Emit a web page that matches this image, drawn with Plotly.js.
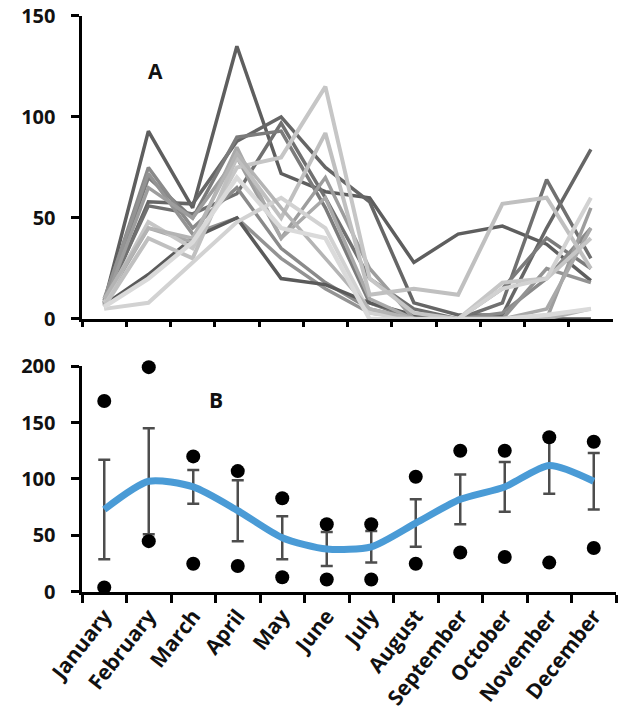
<!DOCTYPE html>
<html>
<head>
<meta charset="utf-8">
<script src="https://cdn.plot.ly/plotly-3.0.1.min.js"></script>
<style>
  html, body { margin: 0; padding: 0; background: #ffffff; }
  #chart { width: 621px; height: 716px; }
</style>
</head>
<body>
<div id="chart"></div>
<script>
// Month categories shared by both panels
const months = ["January", "February", "March", "April", "May", "June",
                "July", "August", "September", "October", "November", "December"];

// Panel A: individual monthly series
const seriesA1  = [8, 93, 55, 135, 72, 63, 60, 28, 42, 46, 37, 19];
const seriesA2  = [7, 58, 57, 88, 100, 75, 58, 8, 2, 2, 45, 84];
const seriesA3  = [9, 56, 52, 62, 97, 60, 20, 5, 0, 8, 69, 30];
const seriesA4  = [8, 70, 50, 90, 93, 55, 8, 0, 0, 15, 40, 25];
const seriesA5  = [9, 75, 45, 65, 35, 18, 5, 0, 0, 3, 20, 45];
const seriesA6  = [10, 72, 42, 50, 30, 15, 3, 0, 0, 0, 25, 18];
const seriesA7  = [7, 22, 40, 50, 20, 17, 8, 2, 0, 0, 0, 0];
const seriesA8  = [7, 65, 50, 80, 40, 70, 25, 0, 0, 0, 0, 55];
const seriesA9  = [8, 45, 38, 85, 40, 60, 10, 0, 0, 0, 5, 45];
const seriesA10 = [8, 48, 35, 75, 80, 115, 20, 3, 0, 18, 20, 40];
const seriesA11 = [6, 40, 30, 80, 50, 92, 12, 15, 12, 57, 60, 25];
const seriesA12 = [5, 8, 28, 48, 60, 45, 3, 0, 0, 15, 20, 60];
const seriesA13 = [10, 45, 40, 82, 55, 30, 5, 0, 0, 0, 0, 5];
const seriesA14 = [6, 20, 38, 70, 45, 40, 0, 0, 0, 0, 2, 5];

// Panel B: monthly mean, its error, and the monthly extremes
const meanB  = [73, 98, 93, 72, 48, 38, 40, 61, 82, 93, 112, 98];
const errorB = [44, 47, 15, 27, 19, 15, 14, 21, 22, 22, 25, 25];
const maxB   = [169, 199, 120, 107, 83, 60, 60, 102, 125, 125, 137, 133];
const minB   = [4, 45, 25, 23, 13, 11, 11, 25, 35, 31, 26, 39];

const seriesA = [seriesA1, seriesA2, seriesA3, seriesA4, seriesA5, seriesA6, seriesA7,
                 seriesA8, seriesA9, seriesA10, seriesA11, seriesA12, seriesA13, seriesA14];
const grays = ["#5e5e5e", "#666666", "#707070", "#7b7b7b", "#8a8a8a", "#939393", "#5a5a5a",
               "#9d9d9d", "#a9a9a9", "#c6c6c6", "#c0c0c0", "#d2d2d2", "#b4b4b4", "#dadada"];
const widths = [3.5, 3.5, 3.5, 3.5, 3.5, 3.5, 3.5, 3.5, 3.5, 4, 4, 4, 3.5, 4.5];

const traces = [];
seriesA.forEach((vals, i) => {
  traces.push({
    x: months, y: vals, xaxis: "x", yaxis: "y",
    type: "scatter", mode: "lines",
    line: { color: grays[i], width: widths[i] },
    cliponaxis: false, hoverinfo: "skip"
  });
});

// Error bars around the mean
traces.push({
  x: months, y: meanB, xaxis: "x2", yaxis: "y2",
  type: "scatter", mode: "markers",
  marker: { size: 1, opacity: 0 },
  error_y: { type: "data", array: errorB, visible: true, color: "#4d4d4d", thickness: 2.5, width: 6 },
  hoverinfo: "skip"
});
// Smoothed mean line
traces.push({
  x: months, y: meanB, xaxis: "x2", yaxis: "y2",
  type: "scatter", mode: "lines",
  line: { color: "#4a9bd6", width: 7, shape: "spline", smoothing: 0.7 },
  hoverinfo: "skip"
});
// Monthly maxima and minima
traces.push({
  x: months, y: maxB, xaxis: "x2", yaxis: "y2",
  type: "scatter", mode: "markers",
  marker: { color: "#000000", size: 14 }, cliponaxis: false
});
traces.push({
  x: months, y: minB, xaxis: "x2", yaxis: "y2",
  type: "scatter", mode: "markers",
  marker: { color: "#000000", size: 14 }, cliponaxis: false
});

const tickFont = { family: "'Open Sans', 'Liberation Sans', sans-serif", size: 20, color: "#111111", weight: 700 };
const monthFont = { family: "'Open Sans', 'Liberation Sans', sans-serif", size: 21, color: "#111111", weight: 700 };

const baseY = {
  showline: true, linecolor: "#000000", linewidth: 3.5,
  ticks: "outside", ticklen: 8, tickwidth: 3, tickcolor: "#000000",
  showgrid: false, zeroline: false, tickfont: tickFont,
  ticklabelstandoff: 11, fixedrange: true
};
const baseX = {
  type: "category", showline: true, linecolor: "#000000", linewidth: 3.5,
  ticks: "outside", tickson: "boundaries", tickwidth: 3, tickcolor: "#000000",
  showgrid: false, zeroline: false, range: [-0.5, 11.5], fixedrange: true
};

const layout = {
  width: 621, height: 716,
  margin: { l: 82, r: 5, t: 0, b: 0 },
  paper_bgcolor: "#ffffff", plot_bgcolor: "#ffffff",
  showlegend: false,
  xaxis: Object.assign({}, baseX, {
    domain: [0, 0.9944], anchor: "y", ticklen: 5, showticklabels: false
  }),
  yaxis: Object.assign({}, baseY, {
    domain: [0.5545, 0.9777], anchor: "x", range: [0, 150], tickvals: [0, 50, 100, 150]
  }),
  xaxis2: Object.assign({}, baseX, {
    domain: [0, 1], anchor: "y2", ticklen: 8, tickangle: -52,
    tickfont: monthFont, categoryorder: "array", categoryarray: months
  }),
  yaxis2: Object.assign({}, baseY, {
    domain: [0.1732, 0.4888], anchor: "x2", range: [0, 200], tickvals: [0, 50, 100, 150, 200]
  }),
  annotations: [
    { text: "A", xref: "x", yref: "y", x: 1.17, y: 123, showarrow: false,
      font: { family: "'Open Sans', sans-serif", size: 21, color: "#111111", weight: 700 } },
    { text: "B", xref: "x2", yref: "y2", x: 2.5, y: 170, showarrow: false,
      font: { family: "'Open Sans', sans-serif", size: 21, color: "#111111", weight: 700 } }
  ]
};

Plotly.newPlot("chart", traces, layout, { displayModeBar: false, staticPlot: true });
</script>
</body>
</html>
